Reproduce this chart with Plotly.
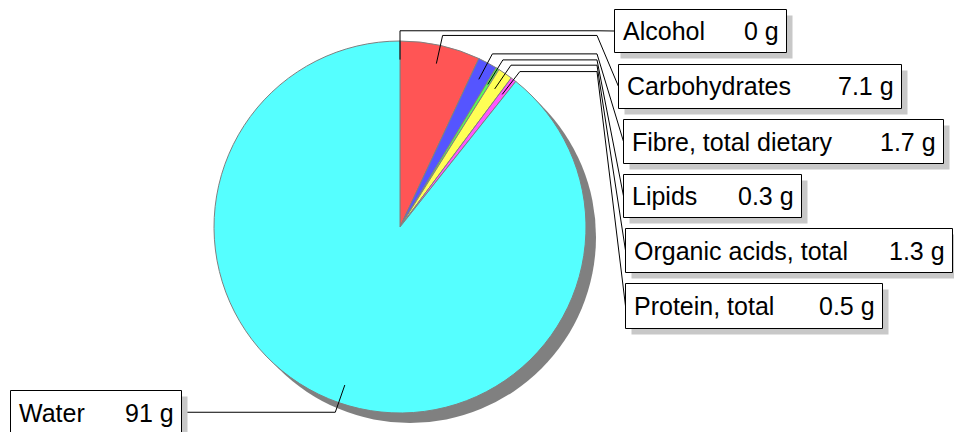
import math
import plotly.graph_objects as go

# ---- data ----
labels = ["Alcohol", "Carbohydrates", "Fibre, total dietary", "Lipids",
          "Organic acids, total", "Protein, total", "Water"]
values = [0, 7.1, 1.7, 0.3, 1.3, 0.5, 91]
value_text = ["0 g", "7.1 g", "1.7 g", "0.3 g", "1.3 g", "0.5 g", "91 g"]
colors = ["#AAAAAA", "#FF5555", "#5555FF", "#55FF55", "#FFFF55", "#FF55FF", "#55FFFF"]

# ---- layout (pixels, in page coordinates) ----
OFF = 8  # default page body margin
W, H = 962 - 2 * OFF, 432 - OFF
CX, CY, R = 400, 227, 186
SHADOW = 10
ELBOW_X = 597
# label boxes: left, top, right, bottom
boxes = [
    (614.5, 9.5, 786.5, 52.5),
    (618.5, 64.5, 901.5, 108.5),
    (623.5, 119.5, 943.5, 163.5),
    (623.5, 174.5, 801.5, 217.5),
    (625.5, 228.5, 952.5, 272.5),
    (625.5, 283.5, 882.5, 328.5),
    (10.5, 390.5, 181.5, 434.5),
]
FONT = dict(family="Liberation Sans, Arial, sans-serif", size=25, color="black")


def px(x):
    return (x - OFF) / W


def py(y):
    return 1 - (y - OFF) / H


fig = go.Figure()
fig.add_trace(go.Pie(
    labels=labels, values=values, sort=False, direction="clockwise", rotation=0,
    marker=dict(colors=colors, line=dict(color="#808080", width=1)),
    textinfo="none", hoverinfo="label+value", showlegend=False,
    domain=dict(x=[px(CX - R), px(CX + R)], y=[py(CY + R), py(CY - R)]),
))

shapes = []
annotations = []
# pie shadow
shapes.append(dict(type="circle", xref="paper", yref="paper", layer="below",
                   x0=px(CX - R + SHADOW), x1=px(CX + R + SHADOW),
                   y0=py(CY + R + SHADOW), y1=py(CY - R + SHADOW),
                   fillcolor="#808080", line=dict(width=0)))

total = sum(values)
cum = 0.0
for lab, v, vt, (l, t, r, b) in zip(labels, values, value_text, boxes):
    mid = (cum + v / 2) / total * 2 * math.pi
    cum += v
    sx, sy = CX + 0.9 * R * math.sin(mid), CY - 0.9 * R * math.cos(mid)
    ox, oy = CX + 1.055 * R * math.sin(mid), CY - 1.055 * R * math.cos(mid)
    bm = (t + b) / 2
    line = dict(color="black", width=1)
    shapes.append(dict(type="line", xref="paper", yref="paper",
                       x0=px(sx), y0=py(sy), x1=px(ox), y1=py(oy), line=line))
    if ox >= CX:
        shapes.append(dict(type="line", xref="paper", yref="paper",
                           x0=px(ox), y0=py(oy), x1=px(ELBOW_X), y1=py(oy), line=line))
        shapes.append(dict(type="line", xref="paper", yref="paper",
                           x0=px(ELBOW_X), y0=py(oy), x1=px(l), y1=py(bm), line=line))
    else:
        shapes.append(dict(type="line", xref="paper", yref="paper",
                           x0=px(ox), y0=py(oy), x1=px(r), y1=py(oy), line=line))
    # box shadow and box
    shapes.append(dict(type="rect", xref="paper", yref="paper",
                       x0=px(l + 6), x1=px(r + 6), y0=py(b + 6), y1=py(t + 6),
                       fillcolor="#C8C8C8", line=dict(width=0)))
    shapes.append(dict(type="rect", xref="paper", yref="paper",
                       x0=px(l), x1=px(r), y0=py(b), y1=py(t),
                       fillcolor="white", line=dict(color="black", width=1)))
    annotations.append(dict(xref="paper", yref="paper", x=px(l + 6), y=py(bm),
                            xanchor="left", yanchor="middle", text=lab,
                            showarrow=False, font=FONT))
    annotations.append(dict(xref="paper", yref="paper", x=px(r - 6), y=py(bm),
                            xanchor="right", yanchor="middle", text=vt,
                            showarrow=False, font=FONT))

fig.update_layout(width=W, height=H, margin=dict(l=0, r=0, t=0, b=0),
                  paper_bgcolor="white", plot_bgcolor="white",
                  shapes=shapes, annotations=annotations)
fig.write_html("out.html")
